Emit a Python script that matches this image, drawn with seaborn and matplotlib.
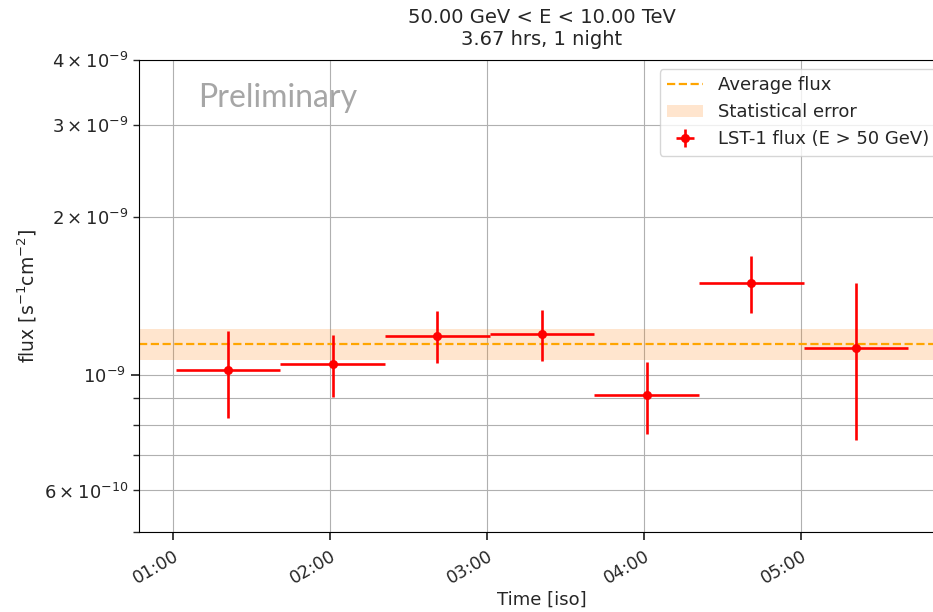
import pandas as pd
import seaborn as sns
import matplotlib.pyplot as plt
import matplotlib.dates as mdates

# time bin centres (start of night 2023-11-15) and fluxes
bin_centres = ["01:21", "02:01", "02:41", "03:21", "04:01", "04:41", "05:21"]
bin_half_width_min = 20
flux = [1.018e-9, 1.046e-9, 1.186e-9, 1.195e-9, 0.913e-9, 1.498e-9, 1.125e-9]
flux_err = [0.192e-9, 0.142e-9, 0.136e-9, 0.134e-9, 0.143e-9, 0.188e-9, 0.374e-9]
avg_flux = 1.143e-9
avg_flux_err = 0.078e-9
x_range = ["00:47", "05:55"]

day = "2023-11-15 "
df = pd.DataFrame({
    "time": pd.to_datetime([day + t for t in bin_centres]),
    "flux": flux,
    "err": flux_err,
})

sns.set_theme(style="ticks", rc={"axes.grid": True, "grid.color": "#b0b0b0",
                                  "grid.linewidth": 0.8, "axes.edgecolor": "black",
                                  "axes.linewidth": 0.8})
plt.rcParams["font.family"] = ["DejaVu Sans"]
plt.rcParams["font.size"] = 13

fig = plt.figure(figsize=(9.33, 6.12), dpi=100)
# axes runs a bit past the right edge, as in the cropped original
ax = fig.add_axes([0.149, 0.131, 0.8639, 0.771])

ax.axhspan(avg_flux - avg_flux_err, avg_flux + avg_flux_err, color="#ff7f0e", alpha=0.2,
           lw=0, label="Statistical error")
ax.axhline(avg_flux, color="orange", ls="--", lw=1.6, label="Average flux")

xerr = pd.Timedelta(minutes=bin_half_width_min)
ax.errorbar(df["time"], df["flux"], yerr=df["err"], xerr=xerr, fmt="o", color="red",
            ms=5.5, elinewidth=1.9, label="LST-1 flux (E > 50 GeV)")

ax.set_yscale("log")
ax.set_ylim(5e-10, 4e-9)
ax.set_xlim(pd.Timestamp(day + x_range[0]), pd.Timestamp(day + x_range[1]))
ax.xaxis.set_major_locator(mdates.HourLocator())
ax.xaxis.set_major_formatter(mdates.DateFormatter("%H:%M"))
for lab in ax.get_xticklabels():
    lab.set_rotation(30)
    lab.set_ha("right")
    lab.set_va("top")
    lab.set_rotation_mode("anchor")
ax.tick_params(axis="x", labelsize=12.5, pad=5)
ax.tick_params(axis="y", which="both", labelsize=13)
ax.grid(True, which="both")

ax.set_xlabel("Time [iso]", fontsize=13, labelpad=2)
ax.set_ylabel("flux [s$^{-1}$cm$^{-2}$]", fontsize=13.5)
ax.set_title("50.00 GeV < E < 10.00 TeV\n3.67 hrs, 1 night", fontsize=14, pad=11)

h, l = ax.get_legend_handles_labels()
order = [l.index("Average flux"), l.index("Statistical error"), l.index("LST-1 flux (E > 50 GeV)")]
ax.legend([h[i] for i in order], [l[i] for i in order], loc="upper right", fontsize=13)

ax.text(0.073, 0.92, "Preliminary", transform=ax.transAxes, color="#a6a6a6",
        fontsize=23, family="Lato", va="center")

fig.savefig("out.png", dpi=100)
